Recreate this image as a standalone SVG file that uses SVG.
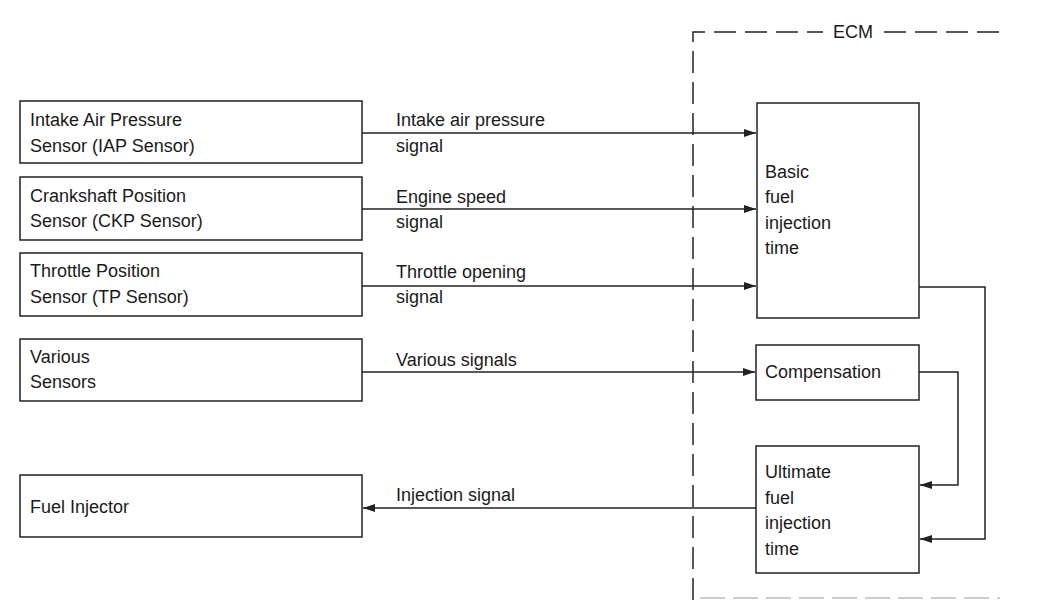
<svg xmlns="http://www.w3.org/2000/svg" width="1045" height="600" viewBox="0 0 1045 600">
<style>
.box{fill:#fff;stroke:#222;stroke-width:1.5}
.t{font-family:"Liberation Sans",Arial,sans-serif;font-size:18px;fill:#1a1a1a}
.c{fill:none;stroke:#222;stroke-width:1.5}
.d{fill:none;stroke:#222;stroke-width:1.5;stroke-dasharray:22,9}
</style>
<defs>
<marker id="ah" viewBox="0 0 12 8" refX="12" refY="4" markerWidth="12" markerHeight="8" markerUnits="userSpaceOnUse" orient="auto">
<path d="M0,0 L12,4 L0,8 z" fill="#222"/>
</marker>
</defs>
<rect width="1045" height="600" fill="#fff"/>
<g id="ecm">
<path class="d" d="M693,600 V32 H823"/>
<path class="d" d="M884,32 H1000"/>
<path d="M700,598 H1000" fill="none" stroke="#999" stroke-width="1" stroke-dasharray="25,8"/>
<text class="t" x="833" y="38">ECM</text>
</g>
<g id="iap"><rect class="box" x="20" y="101" width="342" height="62"/><text class="t" x="30" y="126">Intake Air Pressure</text><text class="t" x="30" y="152">Sensor (IAP Sensor)</text></g>
<g id="ckp"><rect class="box" x="20" y="177" width="342" height="63"/><text class="t" x="30" y="202">Crankshaft Position</text><text class="t" x="30" y="227">Sensor (CKP Sensor)</text></g>
<g id="tp"><rect class="box" x="20" y="253" width="342" height="63"/><text class="t" x="30" y="277">Throttle Position</text><text class="t" x="30" y="303">Sensor (TP Sensor)</text></g>
<g id="various"><rect class="box" x="20" y="339" width="342" height="62"/><text class="t" x="30" y="363">Various</text><text class="t" x="30" y="388">Sensors</text></g>
<g id="injector"><rect class="box" x="20" y="475" width="342" height="62"/><text class="t" x="30" y="513">Fuel Injector</text></g>
<g id="basic"><rect class="box" x="757" y="103" width="162" height="215"/><text class="t" x="765" y="178">Basic</text><text class="t" x="765" y="203">fuel</text><text class="t" x="765" y="229">injection</text><text class="t" x="765" y="254">time</text></g>
<g id="comp"><rect class="box" x="756" y="345" width="163" height="55"/><text class="t" x="765" y="378">Compensation</text></g>
<g id="ultimate"><rect class="box" x="756" y="446" width="163" height="127"/><text class="t" x="765" y="478">Ultimate</text><text class="t" x="765" y="504">fuel</text><text class="t" x="765" y="529">injection</text><text class="t" x="765" y="555">time</text></g>
<g id="connectors">
<path class="c" d="M362,133 H756" marker-end="url(#ah)"/>
<path class="c" d="M362,209 H756" marker-end="url(#ah)"/>
<path class="c" d="M362,286 H756" marker-end="url(#ah)"/>
<path class="c" d="M362,372 H755" marker-end="url(#ah)"/>
<path class="c" d="M756,508 H363" marker-end="url(#ah)"/>
<path class="c" d="M919,372 H958 V485 H920" marker-end="url(#ah)"/>
<path class="c" d="M919,287 H985 V539 H920" marker-end="url(#ah)"/>
<text class="t" x="396" y="126">Intake air pressure</text>
<text class="t" x="396" y="152">signal</text>
<text class="t" x="396" y="203">Engine speed</text>
<text class="t" x="396" y="228">signal</text>
<text class="t" x="396" y="278">Throttle opening</text>
<text class="t" x="396" y="303">signal</text>
<text class="t" x="396" y="366">Various signals</text>
<text class="t" x="396" y="501">Injection signal</text>
</g>
</svg>
